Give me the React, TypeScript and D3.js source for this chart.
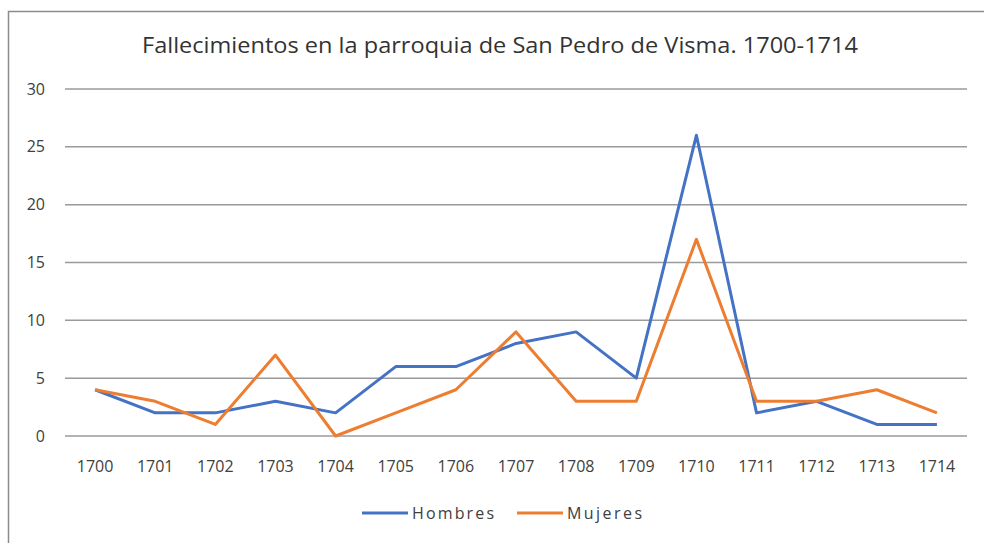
import React, { useEffect, useRef } from 'react';
import * as d3 from 'd3';

// years and deaths per series
const years = ['1700', '1701', '1702', '1703', '1704', '1705', '1706', '1707', '1708', '1709', '1710', '1711', '1712', '1713', '1714'];
const hombres = [4, 2, 2, 3, 2, 6, 6, 8, 9, 5, 26, 2, 3, 1, 1];
const mujeres = [4, 3, 1, 7, 0, 2, 4, 9, 3, 3, 17, 3, 3, 4, 2];
const yTicks = [0, 5, 10, 15, 20, 25, 30];
const seriesNames = ['Hombres', 'Mujeres'];
const colors = ['#4472C4', '#ED7D31'];

const title = 'Fallecimientos en la parroquia de San Pedro de Visma. 1700-1714';
const font = "'Open Sans', 'Noto Sans', sans-serif";

export default function App() {
  const svgRef = useRef<SVGSVGElement>(null);

  useEffect(() => {
    if (!svgRef.current) return;
    const svg = d3.select(svgRef.current);
    svg.selectAll('*').remove();

    const W = 984, H = 543;
    const left = 65, right = 967, top = 89, bottom = 436;

    // outer frame (right/bottom edges fall off the picture)
    svg.append('rect')
      .attr('x', 8.5).attr('y', 11.5)
      .attr('width', W + 20).attr('height', H + 20)
      .attr('fill', 'white')
      .attr('stroke', '#8c8c8c')
      .attr('stroke-width', 1.5);

    svg.append('text')
      .attr('x', 500).attr('y', 53)
      .attr('text-anchor', 'middle')
      .attr('font-family', font)
      .attr('font-size', 21)
      .attr('textLength', 716)
      .attr('lengthAdjust', 'spacingAndGlyphs')
      .attr('fill', '#333')
      .text(title);

    const x = d3.scalePoint<string>().domain(years).range([left, right]).padding(0.5);
    const y = d3.scaleLinear().domain([0, 30]).range([bottom, top]);

    // gridlines
    svg.append('g')
      .selectAll('line')
      .data(yTicks)
      .join('line')
      .attr('x1', left).attr('x2', right)
      .attr('y1', d => y(d)).attr('y2', d => y(d))
      .attr('stroke', '#9a9a9a')
      .attr('stroke-width', 1.5);

    svg.append('g')
      .selectAll('text')
      .data(yTicks)
      .join('text')
      .attr('x', 45)
      .attr('y', d => y(d))
      .attr('dy', '0.35em')
      .attr('text-anchor', 'end')
      .attr('font-family', font)
      .attr('font-size', 16)
      .attr('fill', '#404040')
      .text(d => d);

    svg.append('g')
      .selectAll('text')
      .data(years)
      .join('text')
      .attr('x', d => x(d)!)
      .attr('y', 466)
      .attr('dy', '0.35em')
      .attr('text-anchor', 'middle')
      .attr('font-family', font)
      .attr('font-size', 16)
      .attr('fill', '#404040')
      .text(d => d);

    const line = d3.line<number>()
      .x((_, i) => x(years[i])!)
      .y(d => y(d));

    [hombres, mujeres].forEach((s, i) => {
      svg.append('path')
        .datum(s)
        .attr('fill', 'none')
        .attr('stroke', colors[i])
        .attr('stroke-width', 3)
        .attr('stroke-linejoin', 'round')
        .attr('d', line);
    });

    // legend
    const legendX = [362, 517];
    const legendLen = [82, 75];
    seriesNames.forEach((name, i) => {
      const g = svg.append('g').attr('transform', `translate(${legendX[i]},513)`);
      g.append('line')
        .attr('x1', 0).attr('x2', 46)
        .attr('stroke', colors[i])
        .attr('stroke-width', 3);
      g.append('text')
        .attr('x', 50)
        .attr('dy', '0.35em')
        .attr('font-family', font)
        .attr('font-size', 16)
        .attr('textLength', legendLen[i])
        .attr('fill', '#404040')
        .text(name);
    });
  }, []);

  return (
    <svg ref={svgRef} width={984} height={543}
      style={{ position: 'absolute', left: 0, top: 0, background: 'white' }} />
  );
}
